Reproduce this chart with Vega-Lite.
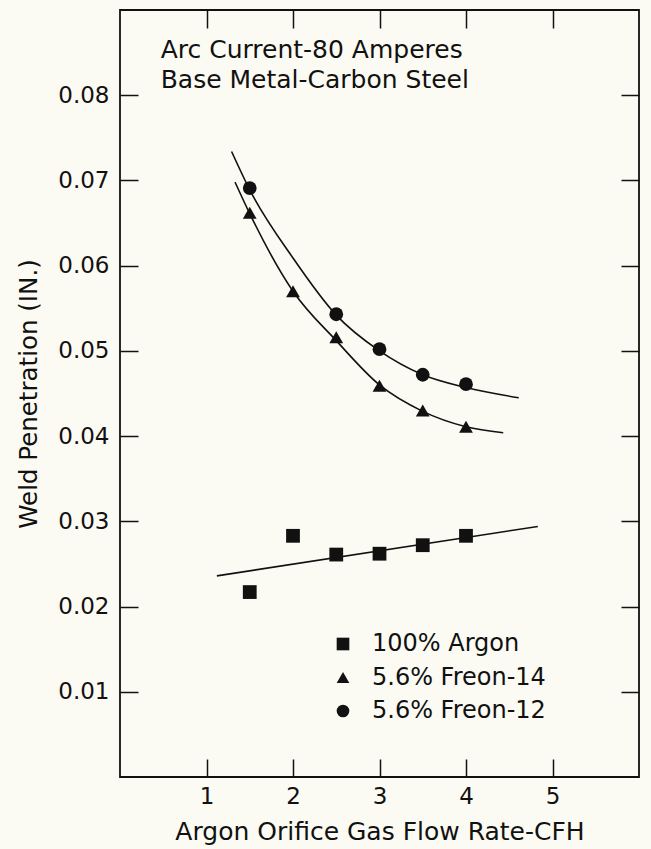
{
  "$schema": "https://vega.github.io/schema/vega-lite/v6.json",
  "width": 519,
  "height": 767,
  "autosize": {"type": "none"},
  "padding": {"left": 120, "top": 10, "right": 12, "bottom": 72},
  "background": "#fbfbf4",
  "config": {
    "view": {"stroke": "#111", "strokeWidth": 1.8},
    "font": "DejaVu Sans",
    "axis": {"grid": false, "domain": false, "tickColor": "#111", "tickWidth": 1.5, "tickSize": -18, "labelColor": "#111", "titleColor": "#111", "labelFontSize": 23, "titleFontSize": 25, "titleFontWeight": "normal", "labelFontWeight": "normal"}
  },
  "datasets": {
    "curves": [
      {"flow": 1.29, "pen": 0.0734, "series": "5.6% Freon-12"},
      {"flow": 1.5, "pen": 0.0689, "series": "5.6% Freon-12"},
      {"flow": 2.0, "pen": 0.0609, "series": "5.6% Freon-12"},
      {"flow": 2.5, "pen": 0.0542, "series": "5.6% Freon-12"},
      {"flow": 3.0, "pen": 0.05, "series": "5.6% Freon-12"},
      {"flow": 3.5, "pen": 0.0472, "series": "5.6% Freon-12"},
      {"flow": 4.0, "pen": 0.0457, "series": "5.6% Freon-12"},
      {"flow": 4.61, "pen": 0.0445, "series": "5.6% Freon-12"},
      {"flow": 1.33, "pen": 0.0698, "series": "5.6% Freon-14"},
      {"flow": 1.5, "pen": 0.0661, "series": "5.6% Freon-14"},
      {"flow": 2.0, "pen": 0.057, "series": "5.6% Freon-14"},
      {"flow": 2.5, "pen": 0.0512, "series": "5.6% Freon-14"},
      {"flow": 3.0, "pen": 0.046, "series": "5.6% Freon-14"},
      {"flow": 3.5, "pen": 0.0429, "series": "5.6% Freon-14"},
      {"flow": 4.0, "pen": 0.0411, "series": "5.6% Freon-14"},
      {"flow": 4.43, "pen": 0.0404, "series": "5.6% Freon-14"},
      {"flow": 1.12, "pen": 0.0236, "series": "100% Argon"},
      {"flow": 4.83, "pen": 0.0294, "series": "100% Argon"}
    ],
    "points": [
      {"flow": 1.5, "pen": 0.0217, "series": "100% Argon"},
      {"flow": 2.0, "pen": 0.0283, "series": "100% Argon"},
      {"flow": 2.5, "pen": 0.0261, "series": "100% Argon"},
      {"flow": 3.0, "pen": 0.0262, "series": "100% Argon"},
      {"flow": 3.5, "pen": 0.0272, "series": "100% Argon"},
      {"flow": 4.0, "pen": 0.0283, "series": "100% Argon"},
      {"flow": 1.5, "pen": 0.0662, "series": "5.6% Freon-14"},
      {"flow": 2.0, "pen": 0.057, "series": "5.6% Freon-14"},
      {"flow": 2.5, "pen": 0.0516, "series": "5.6% Freon-14"},
      {"flow": 3.0, "pen": 0.0459, "series": "5.6% Freon-14"},
      {"flow": 3.5, "pen": 0.043, "series": "5.6% Freon-14"},
      {"flow": 4.0, "pen": 0.0411, "series": "5.6% Freon-14"},
      {"flow": 1.5, "pen": 0.0691, "series": "5.6% Freon-12"},
      {"flow": 2.5, "pen": 0.0543, "series": "5.6% Freon-12"},
      {"flow": 3.0, "pen": 0.0502, "series": "5.6% Freon-12"},
      {"flow": 3.5, "pen": 0.0472, "series": "5.6% Freon-12"},
      {"flow": 4.0, "pen": 0.0461, "series": "5.6% Freon-12"}
    ],
    "notes": [
      {"flow": 0.47, "pen": 0.0844, "text": "Arc Current-80 Amperes"},
      {"flow": 0.47, "pen": 0.0809, "text": "Base Metal-Carbon Steel"}
    ]
  },
  "layer": [
    {
      "data": {"name": "curves"},
      "mark": {"type": "line", "interpolate": "monotone", "color": "#111", "strokeWidth": 1.6},
      "encoding": {
        "x": {"field": "flow", "type": "quantitative", "scale": {"domain": [0, 6]}, "axis": {"orient": "top", "values": [1, 2, 3, 4, 5], "labels": false, "title": null}},
        "y": {"field": "pen", "type": "quantitative", "scale": {"domain": [0.0006, 0.0896]}, "axis": {"orient": "right", "values": [0.01, 0.02, 0.03, 0.04, 0.05, 0.06, 0.07, 0.08], "labels": false, "title": null}},
        "detail": {"field": "series"}
      }
    },
    {
      "data": {"name": "points"},
      "mark": {"type": "point", "filled": true, "color": "#111", "opacity": 1, "size": 190},
      "encoding": {
        "x": {"field": "flow", "type": "quantitative", "axis": {"orient": "bottom", "values": [1, 2, 3, 4, 5], "labelPadding": 26, "title": "Argon Orifice Gas Flow Rate-CFH", "titlePadding": 11}},
        "y": {"field": "pen", "type": "quantitative", "axis": {"orient": "left", "values": [0.01, 0.02, 0.03, 0.04, 0.05, 0.06, 0.07, 0.08], "format": ".2f", "labelPadding": 29, "title": "Weld Penetration (IN.)", "titleFontSize": 24.5, "titlePadding": 16}},
        "shape": {
          "field": "series", "type": "nominal",
          "scale": {"domain": ["100% Argon", "5.6% Freon-14", "5.6% Freon-12"], "range": ["square", "triangle-up", "circle"]},
          "legend": {"orient": "none", "legendX": 211, "legendY": 622, "title": null, "labelFontSize": 24, "labelLimit": 400, "labelColor": "#111", "symbolFillColor": "#111", "symbolStrokeColor": "#111", "symbolSize": 160, "symbolOpacity": 1, "rowPadding": 9.5, "labelOffset": 17}
        }
      }
    },
    {
      "data": {"name": "notes"},
      "mark": {"type": "text", "align": "left", "baseline": "alphabetic", "fontSize": 25, "color": "#111"},
      "encoding": {
        "x": {"field": "flow", "type": "quantitative", "axis": null},
        "y": {"field": "pen", "type": "quantitative", "axis": null},
        "text": {"field": "text"}
      }
    }
  ],
  "resolve": {"axis": {"x": "independent", "y": "independent"}}
}
